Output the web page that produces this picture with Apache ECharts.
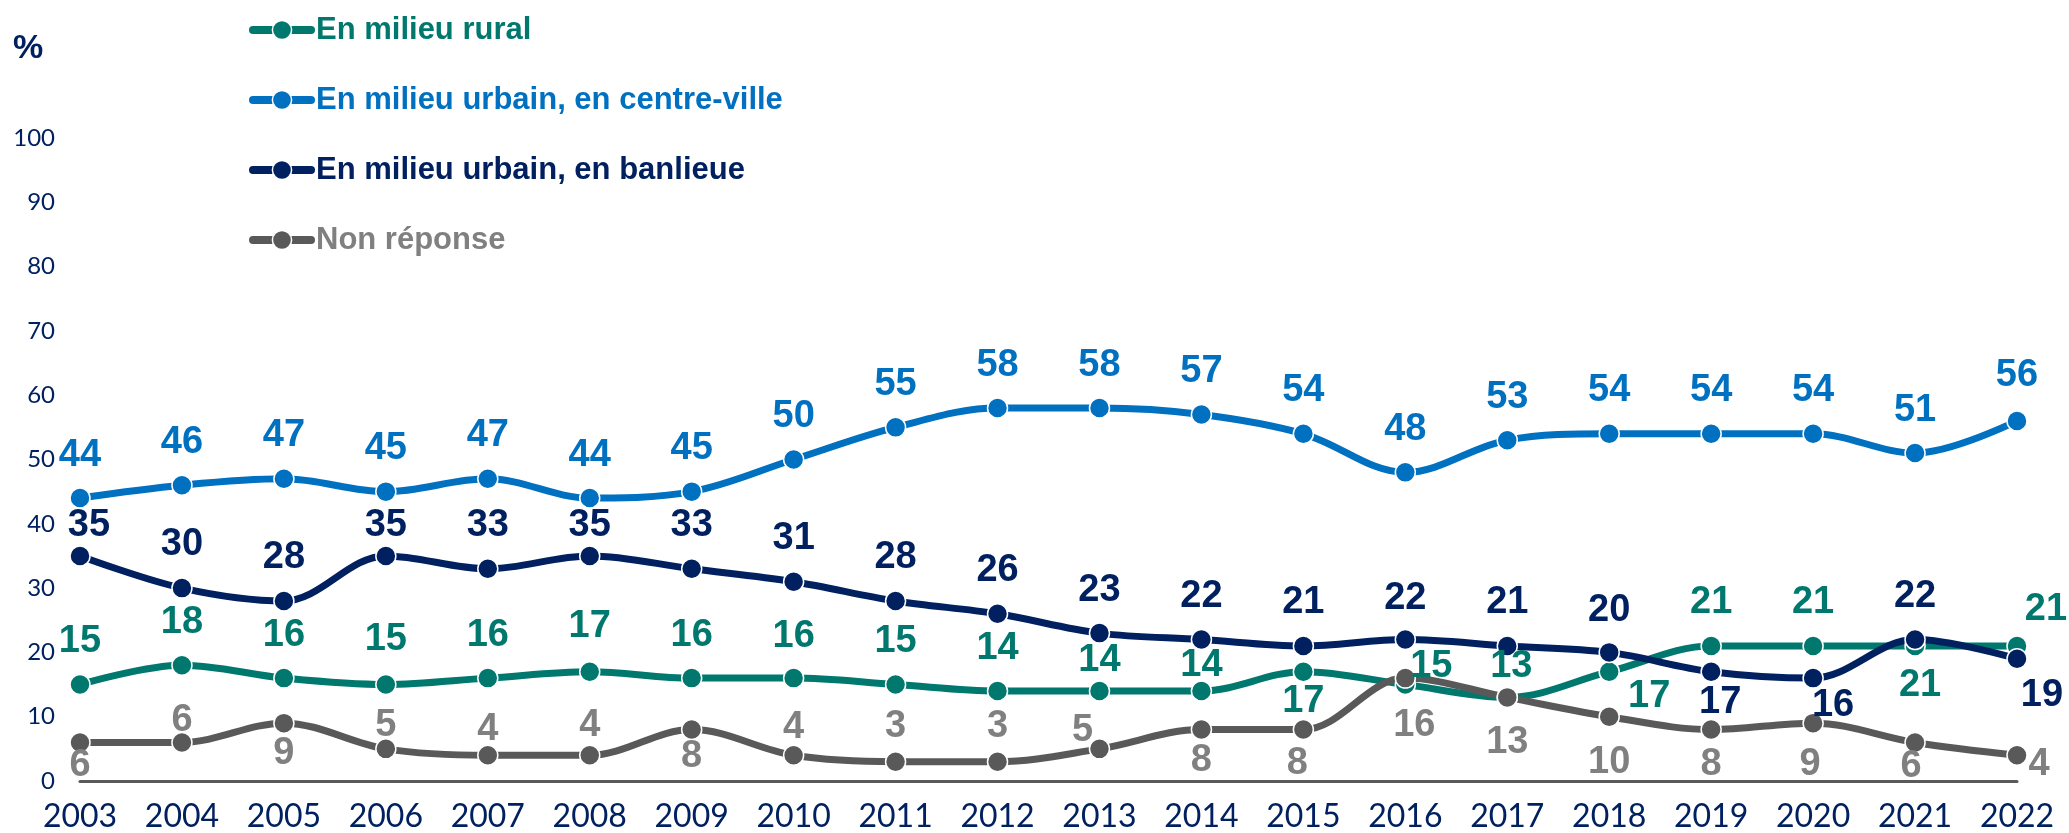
<!DOCTYPE html>
<html>
<head>
<meta charset="utf-8">
<script src="https://cdn.jsdelivr.net/npm/echarts@6/dist/echarts.min.js"></script>
<style>
  html, body { margin: 0; padding: 0; background: #ffffff; }
  #chart { width: 2069px; height: 833px; }
</style>
</head>
<body>
<div id="chart"></div>
<script>
// ---- Data ----
const years = ['2003','2004','2005','2006','2007','2008','2009','2010','2011','2012','2013','2014','2015','2016','2017','2018','2019','2020','2021','2022'];
const seriesNames = ['En milieu rural', 'En milieu urbain, en centre-ville', 'En milieu urbain, en banlieue', 'Non réponse'];
const rural    = [15,18,16,15,16,17,16,16,15,14,14,14,17,15,13,17,21,21,21,21];
const centre   = [44,46,47,45,47,44,45,50,55,58,58,57,54,48,53,54,54,54,51,56];
const banlieue = [35,30,28,35,33,35,33,31,28,26,23,22,21,22,21,20,17,16,22,19];
const nonRep   = [6,6,9,5,4,4,8,4,3,3,5,8,8,16,13,10,8,9,6,4];

// ---- Label placement (style: offset of label centre from point, px) ----
const ruralLab = [[0,-43],[0,-43],[0,-43],[0,-45],[0,-43],[0,-45],[0,-43],[0,-42],[0,-43],[0,-42],
                  [0,-30],[0,-25],[0,30],[26,-18],[4,-31],[40,25],[0,-43],[0,-43],[5,40],[29,-36]];
const centreLab = years.map((y,i)=> i===19 ? [0,-45] : [0,-43]);
const banLab = [[9,-30],[0,-44],[0,-43],[0,-30],[0,-43],[0,-30],[0,-43],[0,-43],[0,-43],[0,-43],
                [0,-43],[0,-43],[0,-43],[0,-41],[0,-43],[0,-42],[9,31],[20,27],[0,-43],[25,37]];
const nonLab = [[0,23],[0,-22],[0,30],[0,-23],[0,-26],[0,-30],[0,27],[0,-28],[0,-35],[0,-35],
                [-17,-18],[0,31],[-6,34],[9,47],[0,45],[0,46],[0,35],[-3,41],[-4,24],[22,9]];

const colors = {
  rural: '#00786E', centre: '#0070C0', banlieue: '#002060', non: '#595959', nonText: '#808080'
};
const LABEL_FONT = "'Liberation Sans Narrow', 'Liberation Sans', Arial, sans-serif";

function makeSeries(name, values, labs, lineColor, textColor) {
  return {
    name: name,
    type: 'line',
    smooth: 0.35,
    symbol: 'circle',
    symbolSize: 20,
    lineStyle: { width: 7, color: lineColor },
    itemStyle: { color: lineColor, borderColor: '#ffffff', borderWidth: 1.5 },
    label: {
      show: true,
      position: 'inside',
      align: 'center',
      verticalAlign: 'middle',
      fontFamily: LABEL_FONT,
      fontWeight: 'bold',
      fontSize: 38,
      color: textColor
    },
    emphasis: { disabled: true },
    data: values.map((v, i) => ({ value: v, label: { offset: labs[i] } }))
  };
}

const chart = echarts.init(document.getElementById('chart'), null, { renderer: 'canvas' });
chart.setOption({
  animation: false,
  backgroundColor: '#ffffff',
  title: {
    text: '%',
    left: 13,
    top: 32,
    padding: 0,
    textStyle: { fontFamily: LABEL_FONT, fontWeight: 'bold', fontSize: 34, color: '#002060' }
  },
  legend: {
    orient: 'vertical',
    left: 249,
    top: 12,
    itemWidth: 58,
    itemHeight: 24,
    itemGap: 34,
    padding: 0,
    lineStyle: { width: 8, cap: 'round' },
    itemStyle: { borderColor: '#ffffff', borderWidth: 1.5 },
    textStyle: { fontFamily: LABEL_FONT, fontWeight: 'bold', fontSize: 31, lineHeight: 36 },
    data: [
      { name: seriesNames[0], textStyle: { color: colors.rural } },
      { name: seriesNames[1], textStyle: { color: colors.centre } },
      { name: seriesNames[2], textStyle: { color: colors.banlieue } },
      { name: seriesNames[3], textStyle: { color: colors.nonText } }
    ]
  },
  grid: { left: 80, right: 52, top: 138, bottom: 52, containLabel: false },
  xAxis: {
    type: 'category',
    data: years,
    boundaryGap: false,
    axisLine: { show: true, lineStyle: { color: '#595959', width: 3 } },
    axisTick: { show: false },
    axisLabel: { fontFamily: "Lato, 'Liberation Sans', sans-serif", fontSize: 32, color: '#002060', margin: 20 },
    splitLine: { show: false }
  },
  yAxis: {
    type: 'value',
    min: 0,
    max: 100,
    interval: 10,
    axisLine: { show: false },
    axisTick: { show: false },
    splitLine: { show: false },
    axisLabel: { fontFamily: "Lato, 'Liberation Sans', sans-serif", fontSize: 24, color: '#002060', margin: 25 }
  },
  series: [
    makeSeries(seriesNames[0], rural, ruralLab, colors.rural, colors.rural),
    makeSeries(seriesNames[1], centre, centreLab, colors.centre, colors.centre),
    makeSeries(seriesNames[2], banlieue, banLab, colors.banlieue, colors.banlieue),
    makeSeries(seriesNames[3], nonRep, nonLab, colors.non, colors.nonText)
  ]
});
</script>
</body>
</html>
